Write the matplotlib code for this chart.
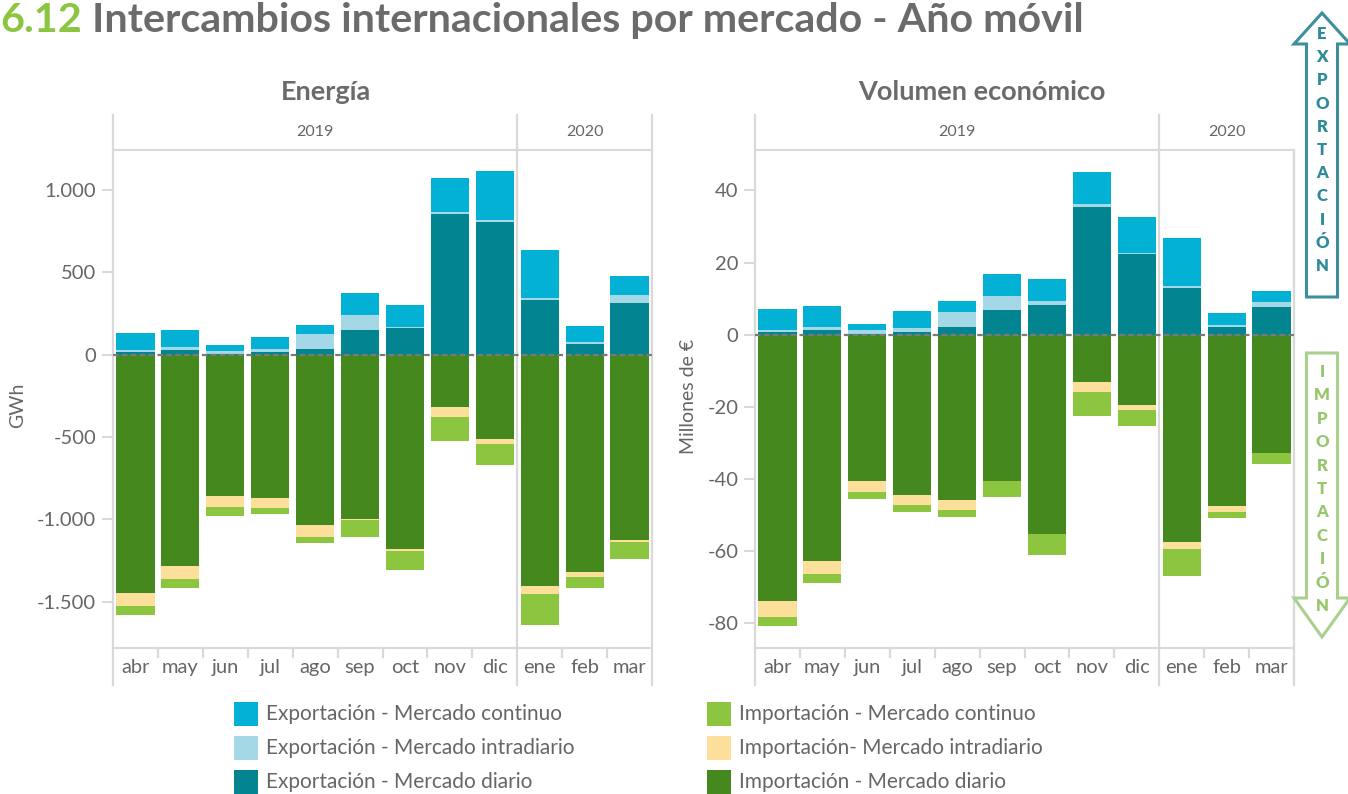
import matplotlib
matplotlib.use("Agg")
import matplotlib.pyplot as plt
import numpy as np
from matplotlib.patches import Polygon, Rectangle
from matplotlib.ticker import FuncFormatter, FixedLocator

# ---------------------------------------------------------------- data
months = ["abr", "may", "jun", "jul", "ago", "sep", "oct", "nov", "dic", "ene", "feb", "mar"]
years = ["2019", "2020"]
months_per_year = [9, 3]

series_names = [
    "Exportación - Mercado continuo",
    "Exportación - Mercado intradiario",
    "Exportación - Mercado diario",
    "Importación - Mercado continuo",
    "Importación- Mercado intradiario",
    "Importación - Mercado diario",
]

# Energía (GWh)
energy_exp_diario = [16, 28, 6, 16, 34, 150, 162, 854, 805, 332, 65, 314]
energy_exp_intra = [12, 18, 16, 18, 91, 91, 8, 14, 12, 14, 12, 49]
energy_exp_cont = [103, 103, 36, 73, 55, 133, 131, 204, 297, 289, 97, 115]
energy_imp_diario = [-1444, -1280, -857, -869, -1032, -996, -1177, -317, -511, -1402, -1317, -1123]
energy_imp_intra = [-79, -79, -66, -60, -73, -8, -12, -61, -30, -48, -30, -12]
energy_imp_cont = [-54, -55, -54, -36, -36, -101, -115, -145, -127, -188, -67, -103]

# Volumen económico (millones de €)
money_exp_diario = [0.74, 1.29, 0.18, 0.74, 2.12, 6.82, 8.2, 35.3, 22.3, 12.9, 2.12, 7.65]
money_exp_intra = [0.55, 0.83, 1.1, 1.1, 4.15, 3.87, 1.1, 0.83, 0.28, 0.55, 0.55, 1.38]
money_exp_cont = [5.8, 5.8, 1.66, 4.7, 3.04, 6.08, 6.08, 9.1, 9.95, 13.5, 3.3, 3.04]
money_imp_diario = [-73.9, -62.8, -40.6, -44.4, -45.8, -40.6, -55.3, -13.1, -19.4, -57.5, -47.5, -32.8]
money_imp_intra = [-4.2, -3.6, -3.0, -2.8, -2.8, 0.0, 0.0, -2.8, -1.4, -1.9, -1.7, 0.0]
money_imp_cont = [-2.5, -2.5, -2.0, -2.0, -2.0, -4.4, -5.8, -6.7, -4.4, -7.5, -1.7, -3.0]

energy_ticks = [-1500, -1000, -500, 0, 500, 1000]
money_ticks = [-80, -60, -40, -20, 0, 20, 40]

# ---------------------------------------------------------------- style
colors = ["#02b1d3", "#a5d8e6", "#038491", "#8cc540", "#fbdf9a", "#45881e"]
GRAY_TXT = "#666666"
TITLE_GRAY = "#6b6b6b"
LINE = "#d9d9d9"
plt.rcParams["font.family"] = ["Lato", "DejaVu Sans"]

W, H = 1348, 794
fig = plt.figure(figsize=(W / 100, H / 100), dpi=100)


def fx(x):
    return x / W


def fy(y):
    return 1 - y / H


AX_TOP, AX_BOT = 150, 648
HEAD_TOP, FOOT_BOT = 115, 685
AX_H = AX_BOT - AX_TOP


def thousands(v, _):
    return f"{v:,.0f}".replace(",", ".")


def panel(x0, x1, exp_d, exp_i, exp_c, imp_d, imp_i, imp_c, ylim, ticks, fmt, right_border_top):
    ax = fig.add_axes([fx(x0), fy(AX_BOT), (x1 - x0) / W, AX_H / H])
    x = np.arange(len(months))
    w = 0.85
    exp_d, exp_i, exp_c = map(np.array, (exp_d, exp_i, exp_c))
    imp_d, imp_i, imp_c = map(np.array, (imp_d, imp_i, imp_c))
    ax.bar(x, exp_c, w, bottom=exp_d + exp_i, color=colors[0], lw=0)
    ax.bar(x, exp_i, w, bottom=exp_d, color=colors[1], lw=0)
    ax.bar(x, exp_d, w, color=colors[2], lw=0)
    ax.bar(x, imp_c, w, bottom=imp_d + imp_i, color=colors[3], lw=0)
    ax.bar(x, imp_i, w, bottom=imp_d, color=colors[4], lw=0)
    ax.bar(x, imp_d, w, color=colors[5], lw=0)

    ax.axhline(0, color="#7a7a7a", lw=1.6, ls=(0, (2.5, 1.5)), zorder=5)
    ax.set_xlim(-0.5, len(months) - 0.5)
    ax.set_ylim(*ylim)
    ax.yaxis.set_major_locator(FixedLocator(ticks))
    ax.yaxis.set_major_formatter(FuncFormatter(fmt))
    ax.set_xticks(x)
    ax.set_xticklabels(months)
    ax.tick_params(axis="x", length=0, labelsize=14.5, labelcolor=GRAY_TXT, pad=8)
    ax.tick_params(axis="y", length=8, width=1.5, color=LINE, labelsize=14.5,
                   labelcolor=GRAY_TXT, pad=4)

    for side in ("left", "right"):
        ax.spines[side].set_visible(False)
    for side in ("top", "bottom"):
        ax.spines[side].set_color(LINE)
        ax.spines[side].set_linewidth(1.5)

    top_f = (AX_BOT - HEAD_TOP) / AX_H
    bot_f = (AX_BOT - FOOT_BOT) / AX_H
    # outer frame, year divider and header
    ax.axvline(-0.5, ymin=bot_f, ymax=top_f, color=LINE, lw=1.6, clip_on=False)
    ax.axvline(len(months) - 0.5, ymin=bot_f, ymax=top_f if right_border_top else 1.0,
               color=LINE, lw=1.6, clip_on=False)
    start = 0
    for yr, n in zip(years, months_per_year):
        ax.text(start + (n - 1) / 2, (AX_BOT - 132) / AX_H, yr, transform=ax.get_xaxis_transform(),
                ha="center", va="center", fontsize=11.5, color=GRAY_TXT)
        start += n
        if start < len(months):
            ax.axvline(start - 0.5, ymin=bot_f, ymax=top_f, color=LINE, lw=1.6, clip_on=False)
    # short separators between month labels
    ends = np.cumsum(months_per_year) - 0.5
    for b in np.arange(0.5, len(months) - 1):
        if b not in ends:
            ax.axvline(b, ymin=-9 / AX_H, ymax=0, color=LINE, lw=1.6, clip_on=False)
    return ax


ax1 = panel(113, 652, energy_exp_diario, energy_exp_intra, energy_exp_cont,
            energy_imp_diario, energy_imp_intra, energy_imp_cont,
            (-1780, 1242), energy_ticks, thousands, True)
ax2 = panel(755, 1294, money_exp_diario, money_exp_intra, money_exp_cont,
            money_imp_diario, money_imp_intra, money_imp_cont,
            (-86.8, 51.2), money_ticks, lambda v, _: f"{v:.0f}", False)

fig.text(fx(18), fy(405), "GWh", rotation=90, ha="center", va="center",
         fontsize=14, color=GRAY_TXT)
fig.text(fx(688), fy(396), "Millones de €", rotation=90, ha="center", va="center",
         fontsize=14, color=GRAY_TXT)

# ---------------------------------------------------------------- titles
t1 = fig.text(fx(0), fy(32), "6.12", fontsize=29.7, fontweight="bold", color="#8cc540",
              ha="left", va="baseline")
ax1.annotate(" Intercambios internacionales por mercado - Año móvil", xy=(1, 0),
             xycoords=t1, fontsize=29.7, fontweight="bold", color=TITLE_GRAY,
             ha="left", va="bottom", annotation_clip=False)

fig.text(fx(326), fy(92), "Energía", ha="center", va="center", fontsize=19.5,
         fontweight="bold", color=TITLE_GRAY)
fig.text(fx(982), fy(92), "Volumen económico", ha="center", va="center", fontsize=19.5,
         fontweight="bold", color=TITLE_GRAY)

# ---------------------------------------------------------------- legend
rows_y = [714, 748, 782]
for i, name in enumerate(series_names):
    col, row = divmod(i, 3)
    px = 234 if col == 0 else 707
    cy = rows_y[row]
    fig.add_artist(Rectangle((fx(px), fy(cy + 12)), 24 / W, 24 / H,
                             transform=fig.transFigure, color=colors[i], lw=0))
    fig.text(fx(px + 32), fy(cy), name, ha="left", va="center", fontsize=15,
             color=GRAY_TXT)

# ---------------------------------------------------------------- direction arrows
def arrow(points, edge):
    pts = [(fx(a), fy(b)) for a, b in points]
    fig.add_artist(Polygon(pts, closed=True, transform=fig.transFigure,
                           facecolor="white", edgecolor=edge, lw=2.2, clip_on=False))


arrow([(1322, 13), (1350, 44), (1337.5, 44), (1337.5, 297), (1306.5, 297),
       (1306.5, 44), (1294, 44)], "#3e8e9c")
arrow([(1306.5, 353), (1337.5, 353), (1337.5, 598), (1350, 598), (1322, 637),
       (1294, 598), (1306.5, 598)], "#a9d08e")

for word, y0, y1, c in (("EXPORTACIÓN", 34, 266, "#2f8a9a"),
                        ("IMPORTACIÓN", 372, 606, "#98c76b")):
    ys = np.linspace(y0, y1, len(word))
    for ch, yy in zip(word, ys):
        fig.text(fx(1322), fy(yy), ch, ha="center", va="center", fontsize=12,
                 fontweight="heavy", color=c)

fig.savefig("out.png", dpi=100, facecolor="white")
